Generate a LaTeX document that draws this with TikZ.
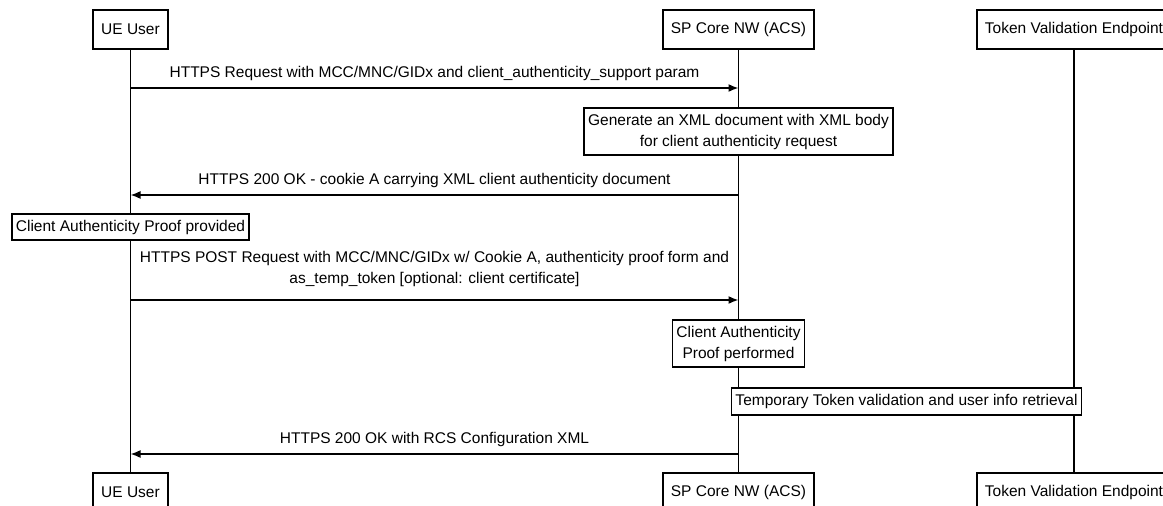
\documentclass[tikz,border=0pt]{standalone}
\usepackage{fontspec}
\setmainfont{Liberation Sans}
\usepackage{tikz}
\usetikzlibrary{arrows.meta}

\begin{document}
\begin{tikzpicture}[x=1pt,y=-1pt,node distance = 608pt,auto,
  party/.style={draw,line width=1.6pt,minimum height=39pt,inner xsep=8pt,font=\fontsize{15.5}{18}\selectfont},
  act/.style={draw,fill=white,line width=1.6pt,align=center,inner xsep=4pt,inner ysep=6pt,font=\fontsize{15.5}{21}\selectfont},
  life/.style={line width=1.6pt},
  msg/.style={-{Latex[length=10pt,width=8pt]},line width=1.6pt},
  lbl/.style={above=3pt,align=center,font=\fontsize{15.5}{21}\selectfont}]
\useasboundingbox (0,0) rectangle (1163,506);

% participants, top and bottom
\node[party] (U) at (130.5,29.5) {UE User};
\node[party] (S) [right of = U] {SP Core NW (ACS)};
\node[party] (T) [right of = S, node distance = 335.5pt] {Token Validation Endpoint};
\node[party] (U2) at (130.5,492.5) {UE User};
\node[party] (S2) [right of = U2] {SP Core NW (ACS)};
\node[party] (T2) [right of = S2, node distance = 335.5pt] {Token Validation Endpoint};

\draw[life] (U) -- (U2);
\draw[life] (S) -- (S2);
\draw[life] (T) -- (T2);

% message ends on the lifelines
\coordinate (u1) at (U |- 0,88);   \coordinate (s1) at (S |- 0,88);
\coordinate (u2) at (U |- 0,195);  \coordinate (s2) at (S |- 0,195);
\coordinate (u3) at (U |- 0,300);  \coordinate (s3) at (S |- 0,300);
\coordinate (u4) at (U |- 0,454);  \coordinate (s4) at (S |- 0,454);

% actions
\node[act] (gen) at (S |- 0,131.5) {Generate an XML document with XML body\\for client authenticity request};
\node[act] (prov) at (U |- 0,227) {Client Authenticity Proof provided};
\node[act] (perf) at (S |- 0,343.5) {Client Authenticity\\Proof performed};
\node[act] (tmp) at (906.5,401.5) {Temporary Token validation and user info retrieval};

\path (u1) edge [msg] node[lbl] {HTTPS Request with MCC/MNC/GIDx and client\_authenticity\_support param} (s1);
\path (s2) edge [msg] node[lbl] {HTTPS 200 OK - cookie A carrying XML client authenticity document} (u2);
\path (u3) edge [msg] node[lbl,above=6pt] {HTTPS POST Request with MCC/MNC/GIDx w/ Cookie A, authenticity proof form and\\as\_temp\_token [optional: client certificate]} (s3);
\path (s4) edge [msg] node[lbl] {HTTPS 200 OK with RCS Configuration XML} (u4);

\end{tikzpicture}
\end{document}
